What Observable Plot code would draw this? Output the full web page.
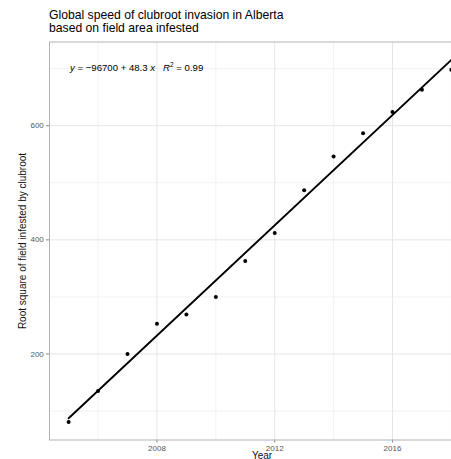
<!DOCTYPE html>
<html>
<head>
<meta charset="utf-8">
<script src="https://cdn.jsdelivr.net/npm/d3@7"></script>
<script src="https://cdn.jsdelivr.net/npm/@observablehq/plot@0.6"></script>
<style>
  html, body { margin: 0; padding: 0; background: #fff; overflow: hidden; width: 451px; height: 459px; }
  #wrap { position: relative; width: 451px; height: 459px; overflow: hidden; font-family: "Liberation Sans", Arial, sans-serif; }
  #title { position: absolute; left: 49px; top: 8.5px; font-size: 12.2px; line-height: 13.3px; color: #000; white-space: nowrap; }
  #eq { position: absolute; left: 70px; top: 62px; font-size: 9.6px; line-height: 12px; color: #000; white-space: pre; }
  #eq sup { font-size: 6.5px; vertical-align: 0; position: relative; top: -4px; }
  #chart { position: absolute; left: 0; top: 0; width: 480px; }
  #chart svg { max-width: none !important; }
</style>
</head>
<body>
<div id="wrap">
  <div id="chart"></div>
  <div id="title"></div>
  <div id="eq"></div>
</div>
<script>
// Data
const years = [2005, 2006, 2007, 2008, 2009, 2010, 2011, 2012, 2013, 2014, 2015, 2016, 2017, 2018];
const rootArea = [81, 135, 200, 253, 269, 300, 363, 412, 487, 546, 587, 624, 663, 698];
const xTicks = [2008, 2012, 2016];
const xMinor = [2006, 2010, 2014, 2018];
const yTicks = [200, 400, 600];
const yMinor = [100, 300, 500, 700];
const titleLines = ["Global speed of clubroot invasion in Alberta", "based on field area infested"];
const eqParts = ["y", " = \u221296700 + 48.3 ", "x", "   ", "R", "2", " = 0.99"];
const xLabel = "Year";
const yLabel = "Root square of field infested by clubroot";

const data = years.map((year, i) => ({year, value: rootArea[i]}));

document.getElementById("title").innerHTML = titleLines.join("<br>");
document.getElementById("eq").innerHTML =
  `<i>${eqParts[0]}</i>${eqParts[1]}<i>${eqParts[2]}</i>${eqParts[3]}<i>${eqParts[4]}</i><sup>${eqParts[5]}</sup>${eqParts[6]}`;

const chart = Plot.plot({
  width: 480,
  height: 480,
  marginLeft: 49,
  marginRight: 10,
  marginTop: 41.5,
  marginBottom: 40.5,
  style: {fontFamily: "Liberation Sans, Arial, sans-serif", background: "transparent", maxWidth: "none"},
  x: {domain: [2004.35, 2018.65]},
  y: {domain: [49.3, 746.7]},
  marks: [
    Plot.ruleX(xMinor, {stroke: "#f2f2f2", strokeWidth: 1}),
    Plot.ruleY(yMinor, {stroke: "#f2f2f2", strokeWidth: 1}),
    Plot.ruleX(xTicks, {stroke: "#e6e6e6", strokeWidth: 1}),
    Plot.ruleY(yTicks, {stroke: "#e6e6e6", strokeWidth: 1}),
    Plot.axisX({ticks: xTicks, tickFormat: d => String(d), tickSize: 3, tickPadding: 2.5, fontSize: 8, fill: "#555", stroke: "#888",
      label: null}),
    Plot.axisY({ticks: yTicks, tickSize: 3, tickPadding: 2.7, fontSize: 8, fill: "#555", stroke: "#888",
      label: null}),
    Plot.text([xLabel], {frameAnchor: "bottom", dx: 2, dy: 18.8, fontSize: 10, fill: "#111", lineAnchor: "bottom", textAnchor: "middle"}),
    Plot.text([yLabel], {frameAnchor: "left", dx: -27, rotate: -90, fontSize: 10, fill: "#111", textAnchor: "middle"}),
    Plot.frame({stroke: "#b3b3b3", strokeWidth: 1}),
    Plot.linearRegressionY(data, {x: "year", y: "value", ci: 0, stroke: "#000", strokeWidth: 1.9}),
    Plot.dot(data, {x: "year", y: "value", r: 2, fill: "#000", stroke: "none"})
  ]
});
document.getElementById("chart").appendChild(chart);
</script>
</body>
</html>
